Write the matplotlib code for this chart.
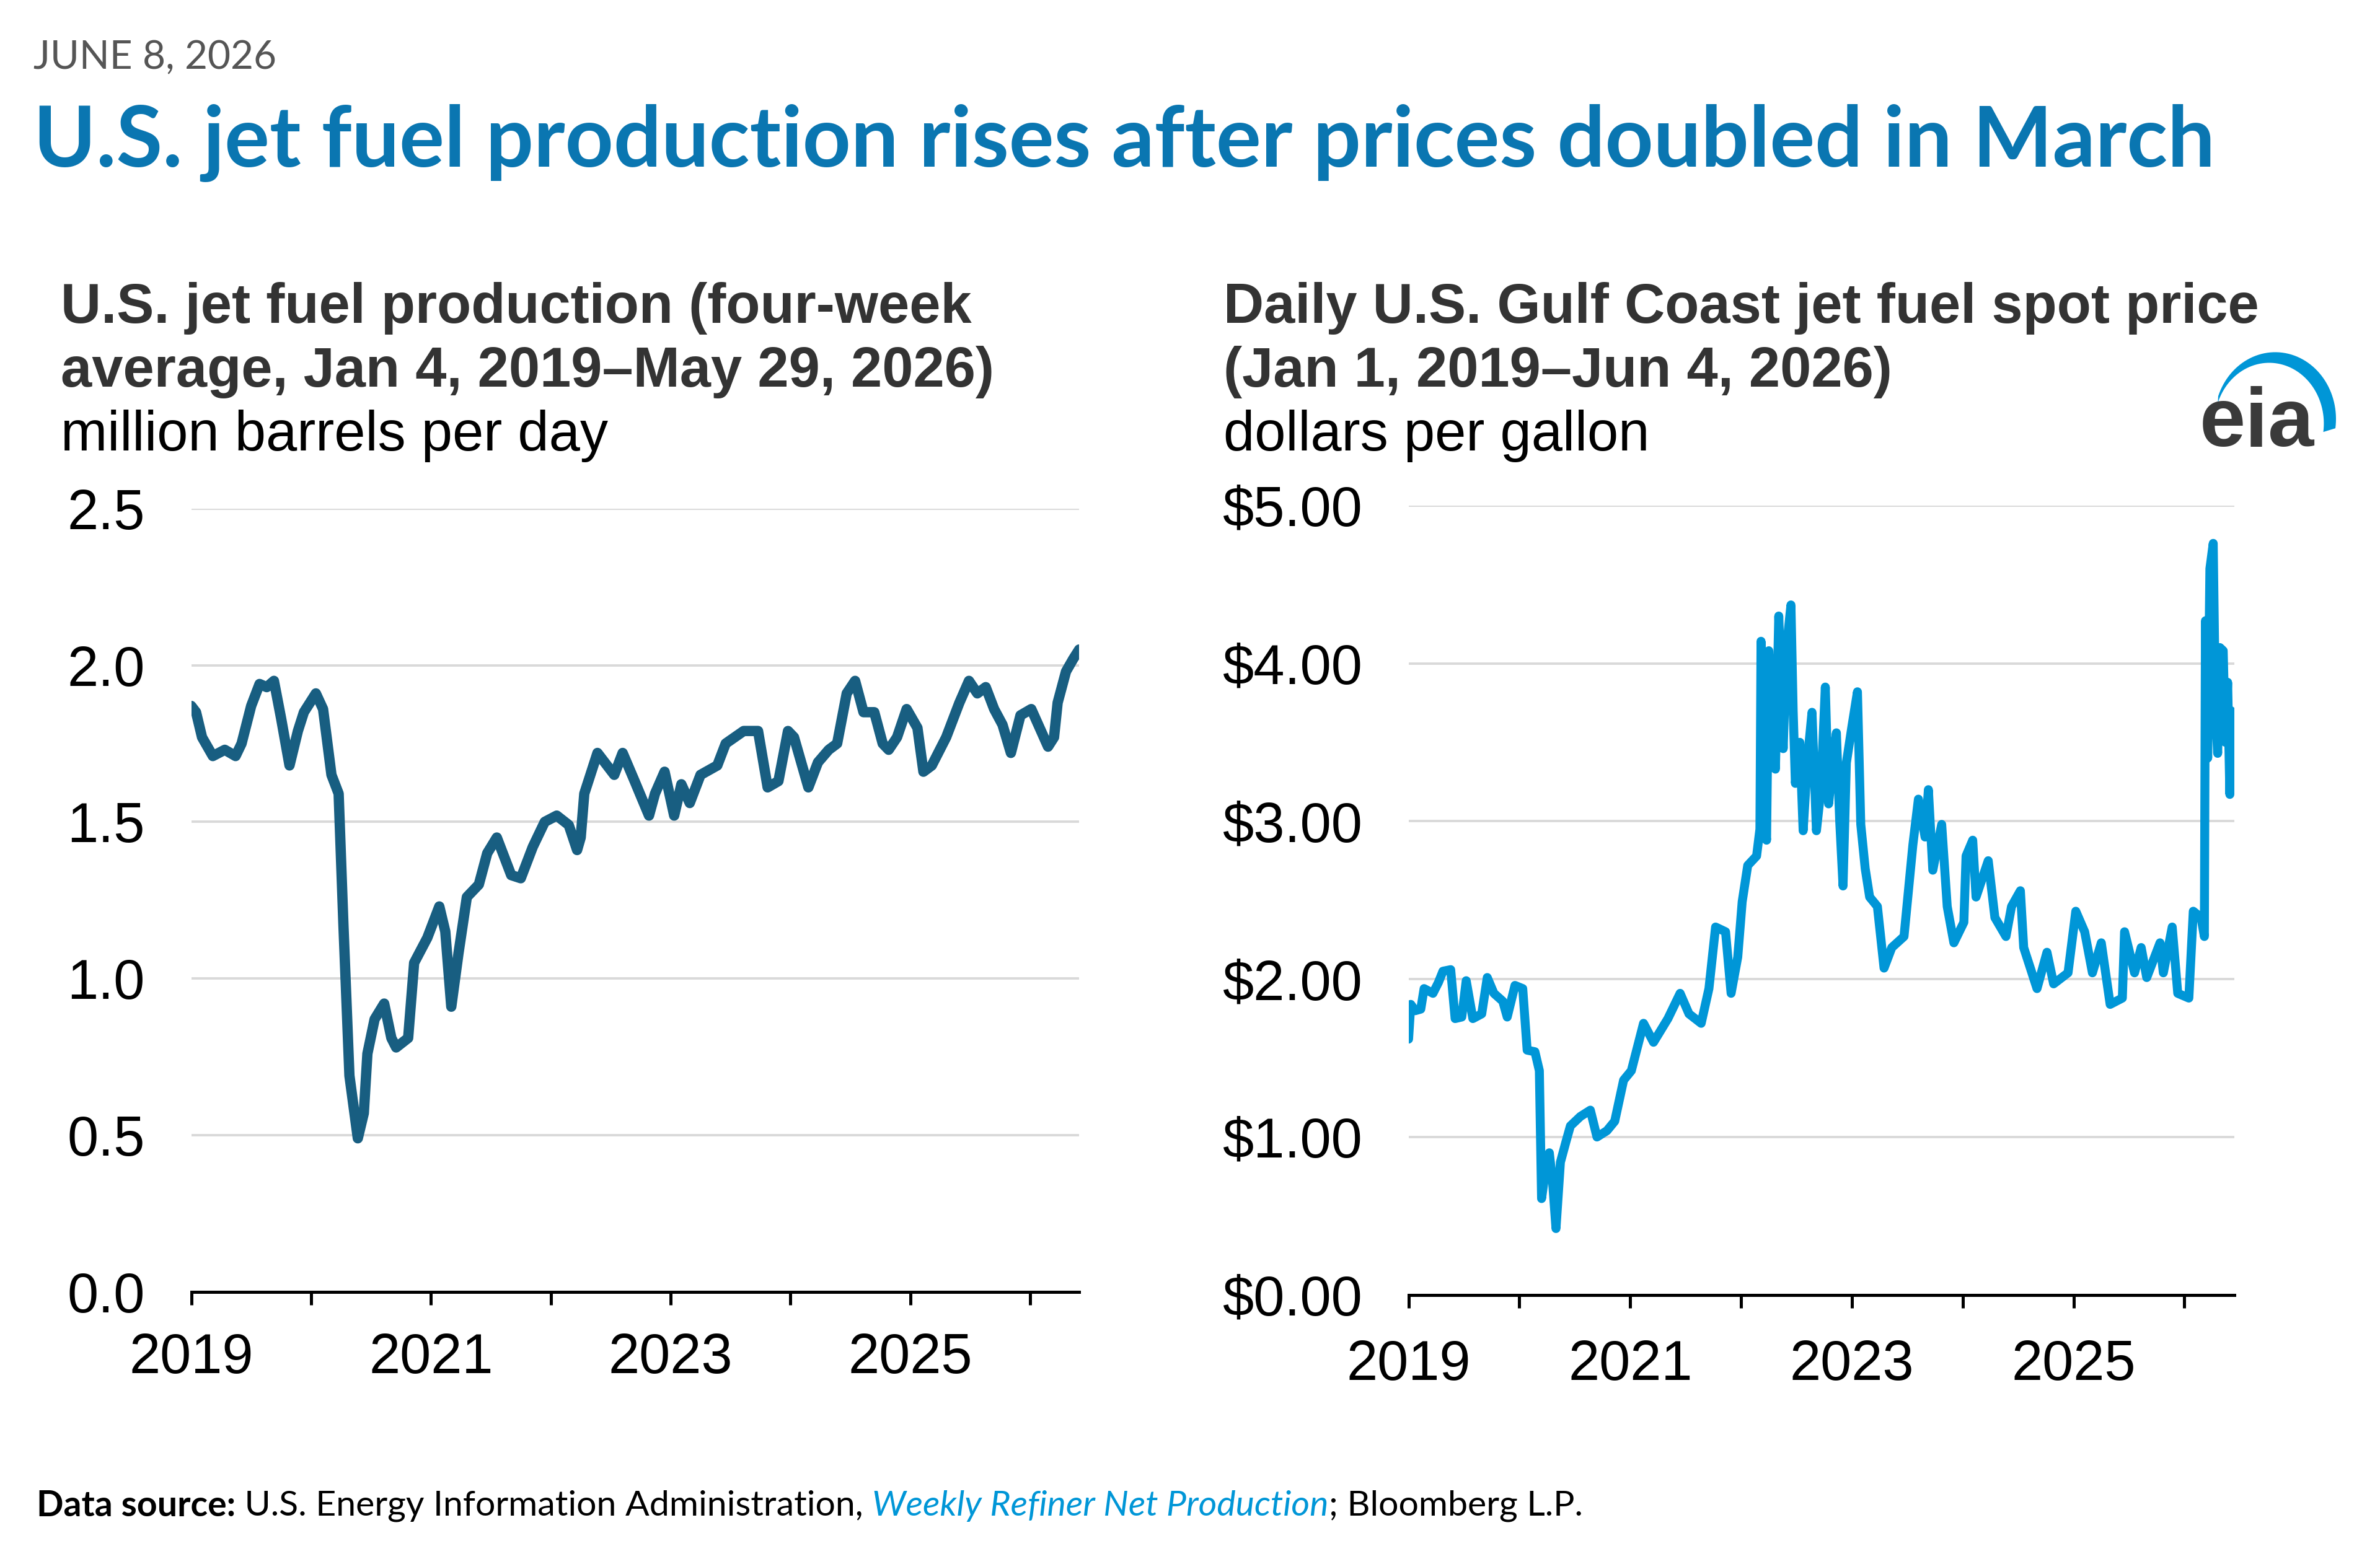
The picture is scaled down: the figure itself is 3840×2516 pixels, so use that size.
#!/usr/bin/env python3
"""
U.S. jet fuel production vs. Gulf Coast jet fuel spot price (EIA style).
Two side-by-side line charts; values read off the published figure.
"""
import numpy as np
import matplotlib
matplotlib.use("Agg")
import matplotlib.pyplot as plt
from matplotlib.patches import Polygon

# ── Data: left panel, four-week average production (million b/d) ────────────
prod_year = [2019.00, 2019.04, 2019.09, 2019.18, 2019.28, 2019.37, 2019.42,
             2019.50, 2019.57, 2019.63, 2019.69, 2019.75, 2019.82, 2019.89,
             2019.94, 2020.04, 2020.10, 2020.17, 2020.23, 2020.27, 2020.32,
             2020.39, 2020.44, 2020.47, 2020.53, 2020.61, 2020.67, 2020.71,
             2020.81, 2020.86, 2020.97, 2021.07, 2021.12, 2021.17, 2021.23,
             2021.30, 2021.40, 2021.47, 2021.55, 2021.62, 2021.67, 2021.75,
             2021.85, 2021.95, 2022.05, 2022.15, 2022.22, 2022.25, 2022.28,
             2022.39, 2022.53, 2022.60, 2022.70, 2022.82, 2022.87, 2022.95,
             2023.03, 2023.09, 2023.16, 2023.25, 2023.39, 2023.46, 2023.61,
             2023.73, 2023.81, 2023.90, 2023.98, 2024.03, 2024.15, 2024.23,
             2024.32, 2024.39, 2024.47, 2024.54, 2024.61, 2024.70, 2024.77,
             2024.82, 2024.89, 2024.97, 2025.06, 2025.11, 2025.18, 2025.30,
             2025.41, 2025.49, 2025.56, 2025.63, 2025.70, 2025.77, 2025.84,
             2025.92, 2026.01, 2026.08, 2026.15, 2026.20, 2026.23, 2026.30,
             2026.36, 2026.41]
prod_val = [1.87, 1.85, 1.77, 1.71, 1.73, 1.71, 1.75,
            1.87, 1.94, 1.93, 1.95, 1.83, 1.68, 1.79,
            1.85, 1.91, 1.86, 1.65, 1.59, 1.17, 0.69,
            0.49, 0.57, 0.76, 0.87, 0.92, 0.81, 0.78,
            0.81, 1.05, 1.13, 1.23, 1.15, 0.91, 1.08,
            1.26, 1.30, 1.40, 1.45, 1.38, 1.33, 1.32,
            1.42, 1.50, 1.52, 1.49, 1.41, 1.45, 1.59,
            1.72, 1.65, 1.72, 1.63, 1.52, 1.59, 1.66,
            1.52, 1.62, 1.56, 1.65, 1.68, 1.75, 1.79,
            1.79, 1.61, 1.63, 1.79, 1.77, 1.61, 1.69,
            1.73, 1.75, 1.91, 1.95, 1.85, 1.85, 1.75,
            1.73, 1.77, 1.86, 1.80, 1.66, 1.68, 1.77,
            1.88, 1.95, 1.91, 1.93, 1.86, 1.81, 1.72,
            1.84, 1.86, 1.80, 1.74, 1.77, 1.88, 1.98,
            2.02, 2.05]

# ── Data: right panel, daily Gulf Coast jet fuel spot price ($/gal) ──────────
price_year = [2019.00, 2019.02, 2019.06, 2019.11, 2019.14, 2019.22, 2019.27,
              2019.31, 2019.38, 2019.42, 2019.48, 2019.52, 2019.58, 2019.66,
              2019.71, 2019.77, 2019.85, 2019.89, 2019.96, 2020.03, 2020.07,
              2020.14, 2020.18, 2020.20, 2020.24, 2020.27, 2020.30, 2020.33,
              2020.37, 2020.42, 2020.46, 2020.55, 2020.64, 2020.70, 2020.79,
              2020.86, 2020.94, 2021.01, 2021.12, 2021.21, 2021.34, 2021.45,
              2021.53, 2021.64, 2021.71, 2021.77, 2021.86, 2021.91, 2021.97,
              2022.01, 2022.06, 2022.14, 2022.17, 2022.18, 2022.21, 2022.23,
              2022.25, 2022.28, 2022.31, 2022.34, 2022.36, 2022.38, 2022.41,
              2022.45, 2022.47, 2022.49, 2022.53, 2022.56, 2022.60, 2022.64,
              2022.68, 2022.72, 2022.76, 2022.79, 2022.83, 2022.86, 2022.89,
              2022.92, 2022.95, 2023.00, 2023.05, 2023.08, 2023.12, 2023.16,
              2023.23, 2023.29, 2023.36, 2023.47, 2023.55, 2023.60, 2023.66,
              2023.69, 2023.73, 2023.81, 2023.86, 2023.92, 2024.01, 2024.03,
              2024.09, 2024.12, 2024.23, 2024.29, 2024.39, 2024.44, 2024.52,
              2024.55, 2024.67, 2024.76, 2024.82, 2024.95, 2025.02, 2025.10,
              2025.17, 2025.25, 2025.33, 2025.44, 2025.46, 2025.55, 2025.61,
              2025.66, 2025.78, 2025.81, 2025.89, 2025.94, 2026.04, 2026.08,
              2026.15, 2026.18, 2026.19, 2026.21, 2026.23, 2026.26, 2026.28,
              2026.30, 2026.32, 2026.35, 2026.37, 2026.39, 2026.41, 2026.42,
              2026.44]
price_val = [1.62, 1.84, 1.80, 1.81, 1.94, 1.91, 1.98,
             2.05, 2.06, 1.75, 1.76, 1.99, 1.75, 1.78,
             2.01, 1.91, 1.86, 1.76, 1.96, 1.94, 1.55,
             1.54, 1.42, 0.61, 0.81, 0.90, 0.71, 0.42,
             0.84, 0.97, 1.07, 1.13, 1.17, 1.00, 1.04,
             1.10, 1.36, 1.42, 1.72, 1.60, 1.75, 1.91,
             1.78, 1.72, 1.94, 2.33, 2.30, 1.91, 2.14,
             2.49, 2.72, 2.78, 2.95, 4.14, 3.00, 2.88,
             4.08, 3.60, 3.33, 4.30, 3.90, 3.46, 4.10,
             4.37, 3.70, 3.24, 3.50, 2.94, 3.40, 3.69,
             2.94, 3.20, 3.85, 3.11, 3.40, 3.56, 3.00,
             2.59, 3.37, 3.60, 3.82, 2.98, 2.70, 2.52,
             2.46, 2.07, 2.20, 2.27, 2.85, 3.14, 2.90,
             3.20, 2.69, 2.98, 2.46, 2.23, 2.36, 2.78,
             2.88, 2.52, 2.75, 2.39, 2.27, 2.46, 2.56,
             2.20, 1.94, 2.17, 1.97, 2.04, 2.43, 2.30,
             2.04, 2.23, 1.84, 1.88, 2.30, 2.04, 2.20,
             2.01, 2.23, 2.04, 2.33, 1.91, 1.88, 2.43,
             2.39, 2.27, 4.27, 3.40, 4.60, 4.76, 3.70,
             3.43, 4.10, 4.08, 3.50, 3.88, 3.17, 3.70,
             3.50]

prod_ticks = [0.0, 0.5, 1.0, 1.5, 2.0, 2.5]
price_ticks = [0, 1, 2, 3, 4, 5]
year_ticks = list(range(2019, 2027))
year_labels = ["2019", "", "2021", "", "2023", "", "2025", ""]

# ── Style ───────────────────────────────────────────────────────────────────
W, H = 3840, 2516
DPI = 200
SANS = ["Liberation Sans", "DejaVu Sans"]
HEAD = ["Lato", "DejaVu Sans"]
EIA_BLUE = "#0096d7"
TITLE_BLUE = "#0a76b1"
PROD_COLOR = "#185e81"
GRID = "#d9d9d9"
TXT = "#333333"

fig = plt.figure(figsize=(W / DPI, H / DPI), dpi=DPI)
fig.patch.set_facecolor("white")


def fx(x):  # small-reference x (1568 wide) -> figure fraction
    return x / 1568.0


def fy(y):  # small-reference y (1027 tall, from top) -> figure fraction
    return 1.0 - y / 1027.0


def style_axis(ax, yticks, ylabels, xmax, xpad):
    ax.set_xlim(2019, xmax)
    ax.set_ylim(yticks[0], yticks[-1])
    ax.set_yticks(yticks)
    ax.set_yticklabels(ylabels)
    ax.set_xticks(year_ticks)
    ax.set_xticklabels(year_labels)
    for s in ("top", "right", "left"):
        ax.spines[s].set_visible(False)
    ax.spines["bottom"].set_linewidth(1.8)
    ax.spines["bottom"].set_color("black")
    ax.spines["bottom"].set_zorder(5)
    ax.grid(axis="y", color=GRID, lw=1.4)
    ax.set_axisbelow(True)
    ax.tick_params(axis="y", length=0, pad=27, labelsize=32.5)
    ax.tick_params(axis="x", length=7.5, width=1.8, pad=xpad, labelsize=32.5,
                   direction="out")
    for lab in ax.get_xticklabels() + ax.get_yticklabels():
        lab.set_family(SANS)
        lab.set_color("black")


# ── Left panel ──────────────────────────────────────────────────────────────
ax1 = fig.add_axes([fx(126), fy(851), fx(711) - fx(126), fy(335) - fy(851)])
ax1.plot(prod_year, prod_val, color=PROD_COLOR, lw=6.0,
         solid_joinstyle="round", solid_capstyle="round", zorder=3)
style_axis(ax1, prod_ticks, [f"{t:.1f}" for t in prod_ticks], 2026.41, 16)

# ── Right panel ─────────────────────────────────────────────────────────────
ax2 = fig.add_axes([fx(928), fy(853), fx(1472) - fx(928), fy(333) - fy(853)])
ax2.plot(price_year, price_val, color=EIA_BLUE, lw=5.2,
         solid_joinstyle="round", solid_capstyle="round", zorder=3)
style_axis(ax2, price_ticks, [f"${t:.2f}" for t in price_ticks], 2026.45, 18)

# ── Header ──────────────────────────────────────────────────────────────────
fig.text(fx(22), fy(38), "JUNE 8, 2026", family=HEAD, fontsize=23,
         color="#555555", va="center", ha="left")
fig.text(fx(22), fy(94), "U.S. jet fuel production rises after prices doubled in March",
         family=HEAD, fontsize=49, fontweight="bold", color=TITLE_BLUE,
         va="center", ha="left")

sub_kw = dict(family=SANS, fontsize=32.5, color=TXT, va="center", ha="left")
fig.text(fx(40), fy(203), "U.S. jet fuel production (four-week", fontweight="bold", **sub_kw)
fig.text(fx(40), fy(245), "average, Jan 4, 2019\u2013May 29, 2026)", fontweight="bold", **sub_kw)
fig.text(fx(40), fy(287), "million barrels per day", **{**sub_kw, "color": "black"})
fig.text(fx(806), fy(203), "Daily U.S. Gulf Coast jet fuel spot price", fontweight="bold", **sub_kw)
fig.text(fx(806), fy(245), "(Jan 1, 2019\u2013Jun 4, 2026)", fontweight="bold", **sub_kw)
fig.text(fx(806), fy(287), "dollars per gallon", **{**sub_kw, "color": "black"})

# ── EIA logo ────────────────────────────────────────────────────────────────
fig.text(fx(1487), fy(280), "eia", family=SANS, fontsize=48, fontweight="bold",
         color="#3a3a3a", va="center", ha="center")
t = np.linspace(np.radians(160), np.radians(-8), 60)
outer = np.column_stack([1499 + 40 * np.cos(t), 276 - 44 * np.sin(t)])
t2 = t[::-1]
inner = np.column_stack([1495 + 36 * np.cos(t2), 279 - 40 * np.sin(t2)])
pts = np.vstack([outer, inner])
arc = Polygon(np.column_stack([fx(pts[:, 0]), fy(pts[:, 1])]), closed=True,
              transform=fig.transFigure, facecolor=EIA_BLUE, edgecolor="none")
fig.patches.append(arc)

# ── Footer (mixed styles, laid out piece by piece) ──────────────────────────
renderer = fig.canvas.get_renderer()
pieces = [("Data source:", dict(fontweight="bold", color="black")),
          (" U.S. Energy Information Administration, ", dict(color="black")),
          ("Weekly Refiner Net Production", dict(style="italic", color=EIA_BLUE)),
          ("; Bloomberg L.P.", dict(color="black"))]
x0 = 24 / 1568 * W
for txt, kw in pieces:
    tt = fig.text(x0 / W, fy(992), txt, family=HEAD, fontsize=20.6,
                  va="center", ha="left", **kw)
    x0 += tt.get_window_extent(renderer).width

fig.savefig("out.png", dpi=DPI, facecolor="white")
